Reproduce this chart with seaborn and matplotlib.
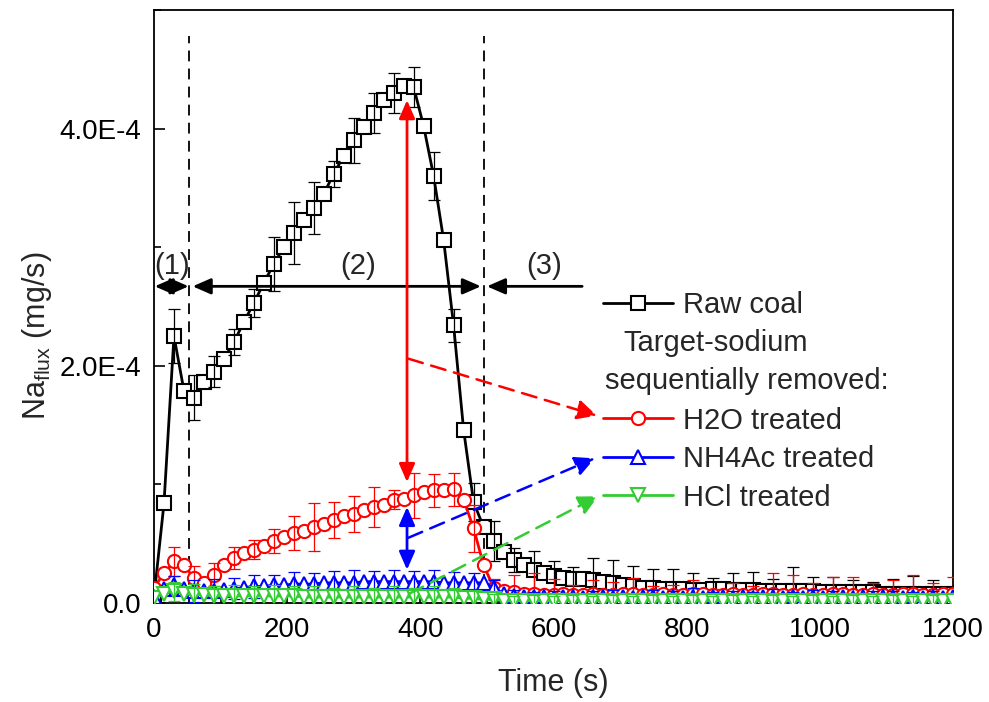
import numpy as np
import matplotlib
matplotlib.use("Agg")
import matplotlib.pyplot as plt
from matplotlib.lines import Line2D
from matplotlib.ticker import MultipleLocator, FuncFormatter
import seaborn as sns

# Sampling times (s); error bars are reported on every second sample
time_s = np.arange(0, 1201, 15)
err_time_s = time_s[::2]

# Na flux in units of 1E-4 mg/s
raw_coal = [
    0.05, 0.84, 2.25, 1.79, 1.73, 1.86, 1.95, 2.06, 2.20, 2.37,
    2.53, 2.70, 2.86, 3.00, 3.12, 3.23, 3.33, 3.45, 3.62, 3.77,
    3.90, 4.01, 4.13, 4.24, 4.30, 4.36, 4.35, 4.02, 3.60, 3.06,
    2.34, 1.46, 0.85, 0.64, 0.52, 0.43, 0.36, 0.32, 0.28, 0.25,
    0.23, 0.21, 0.20, 0.20, 0.19, 0.18, 0.17, 0.15, 0.14, 0.13,
    0.13, 0.12, 0.12, 0.12, 0.11, 0.11, 0.12, 0.12, 0.11, 0.11,
    0.11, 0.10, 0.10, 0.10, 0.10, 0.10, 0.10, 0.09, 0.09, 0.09,
    0.09, 0.09, 0.09, 0.08, 0.08, 0.08, 0.08, 0.08, 0.08, 0.08,
    0.08,
]
h2o_treated = [
    0.13, 0.25, 0.35, 0.32, 0.21, 0.17, 0.24, 0.32, 0.38, 0.42,
    0.45, 0.48, 0.52, 0.56, 0.59, 0.61, 0.64, 0.67, 0.70, 0.73,
    0.75, 0.78, 0.81, 0.83, 0.87, 0.88, 0.91, 0.94, 0.95, 0.95,
    0.96, 0.87, 0.63, 0.32, 0.13, 0.10, 0.09, 0.08, 0.08, 0.07,
    0.07, 0.08, 0.07, 0.07, 0.08, 0.07, 0.07, 0.08, 0.08, 0.07,
    0.07, 0.08, 0.07, 0.07, 0.08, 0.08, 0.07, 0.07, 0.08, 0.07,
    0.07, 0.08, 0.08, 0.07, 0.07, 0.08, 0.07, 0.07, 0.08, 0.08,
    0.07, 0.07, 0.08, 0.07, 0.07, 0.08, 0.08, 0.07, 0.07, 0.08,
    0.08,
]
nh4ac_treated = [
    0.05, 0.12, 0.15, 0.12, 0.10, 0.10, 0.10, 0.11, 0.12, 0.13,
    0.14, 0.14, 0.15, 0.15, 0.16, 0.16, 0.16, 0.17, 0.17, 0.17,
    0.17, 0.18, 0.18, 0.18, 0.18, 0.18, 0.18, 0.18, 0.18, 0.17,
    0.17, 0.17, 0.17, 0.17, 0.13, 0.08, 0.06, 0.05, 0.05, 0.05,
    0.04, 0.05, 0.05, 0.04, 0.05, 0.05, 0.04, 0.05, 0.04, 0.05,
    0.05, 0.04, 0.05, 0.04, 0.05, 0.04, 0.05, 0.05, 0.04, 0.05,
    0.04, 0.05, 0.05, 0.04, 0.05, 0.04, 0.05, 0.04, 0.05, 0.05,
    0.04, 0.05, 0.04, 0.05, 0.05, 0.04, 0.05, 0.04, 0.05, 0.04,
    0.05,
]
hcl_treated = [
    0.04, 0.08, 0.10, 0.08, 0.07, 0.07, 0.06, 0.06, 0.06, 0.06,
    0.06, 0.06, 0.06, 0.06, 0.06, 0.05, 0.05, 0.05, 0.05, 0.05,
    0.05, 0.05, 0.05, 0.05, 0.05, 0.05, 0.05, 0.05, 0.05, 0.05,
    0.05, 0.04, 0.04, 0.03, 0.03, 0.02, 0.02, 0.02, 0.02, 0.02,
    0.02, 0.02, 0.02, 0.02, 0.02, 0.02, 0.02, 0.02, 0.02, 0.02,
    0.02, 0.02, 0.02, 0.02, 0.02, 0.02, 0.02, 0.02, 0.02, 0.02,
    0.02, 0.02, 0.02, 0.02, 0.02, 0.02, 0.02, 0.02, 0.02, 0.02,
    0.02, 0.02, 0.02, 0.02, 0.02, 0.02, 0.02, 0.02, 0.02, 0.02,
    0.02,
]

# Standard deviations (1E-4 mg/s) at err_time_s
raw_coal_err = [
    0.00, 0.23, 0.19, 0.13, 0.11, 0.12, 0.23, 0.26, 0.22, 0.11,
    0.19, 0.17, 0.17, 0.17, 0.20, 0.14, 0.16, 0.17, 0.10, 0.16,
    0.12, 0.10, 0.19, 0.19, 0.17, 0.16, 0.17, 0.14, 0.09, 0.14,
    0.15, 0.10, 0.20, 0.12, 0.13, 0.10, 0.09, 0.12, 0.15, 0.11, 0.00,
]
h2o_err = [
    0.00, 0.12, 0.10, 0.10, 0.09, 0.08, 0.10, 0.14, 0.20, 0.15,
    0.15, 0.17, 0.08, 0.19, 0.14, 0.14, 0.20, 0.07, 0.15, 0.17,
    0.13, 0.08, 0.11, 0.11, 0.13, 0.07, 0.08, 0.11, 0.05, 0.09,
    0.07, 0.17, 0.17, 0.10, 0.14, 0.15, 0.09, 0.12, 0.16, 0.10, 0.14,
]
nh4ac_err = [
    0.00, 0.08, 0.09, 0.10, 0.09, 0.10, 0.09, 0.10, 0.09, 0.10,
    0.11, 0.09, 0.10, 0.09, 0.10, 0.09, 0.08, 0.06, 0.05, 0.04,
    0.06, 0.03, 0.05, 0.07, 0.04, 0.06, 0.05, 0.08, 0.04, 0.06,
    0.05, 0.07, 0.04, 0.06, 0.05, 0.04, 0.06, 0.05, 0.04, 0.05, 0.00,
]
hcl_err = [
    0.00, 0.08, 0.09, 0.08, 0.09, 0.08, 0.09, 0.08, 0.09, 0.08,
    0.09, 0.08, 0.09, 0.08, 0.09, 0.08, 0.07, 0.05, 0.04, 0.05,
    0.04, 0.05, 0.04, 0.05, 0.04, 0.05, 0.04, 0.05, 0.04, 0.05,
    0.04, 0.05, 0.04, 0.05, 0.04, 0.05, 0.04, 0.05, 0.04, 0.05, 0.00,
]

series_names = ["Raw coal", "H2O treated", "NH4Ac treated", "HCl treated"]
series_values = [raw_coal, h2o_treated, nh4ac_treated, hcl_treated]
series_errors = [raw_coal_err, h2o_err, nh4ac_err, hcl_err]
series_colors = ["#000000", "#FF0000", "#0000FF", "#33CC33"]
series_markers = ["s", "o", "^", "v"]

# Stage boundaries (s) and stage labels
stage_bounds = [53, 495]
stage_labels = ["(1)", "(2)", "(3)"]

SCALE = 1e-4

sns.set_theme(style="ticks")
plt.rcParams["font.family"] = ["Liberation Sans", "DejaVu Sans"]
plt.rcParams["mathtext.fontset"] = "custom"
plt.rcParams["mathtext.rm"] = "Liberation Sans"
plt.rcParams["mathtext.it"] = "Liberation Sans"

W, H = 989, 702
fig = plt.figure(figsize=(W / 100, H / 100), dpi=100)
ax = fig.add_axes([154 / W, 1 - 603 / H, (953 - 154) / W, (603 - 10) / H])

MS, MEW, LW = 9.5, 1.5, 2.0

handles = []
for i, (name, vals, errs, col, mk) in enumerate(
        zip(series_names, series_values, series_errors, series_colors, series_markers)):
    y = np.asarray(vals) * SCALE
    sns.lineplot(x=time_s, y=y, ax=ax, color=col, lw=LW, marker=mk,
                 markersize=MS, markerfacecolor="white", markeredgecolor=col,
                 markeredgewidth=MEW, errorbar=None, legend=False,
                 zorder=2 + i, clip_on=True)
    e = np.asarray(errs)
    keep = e > 0
    ax.errorbar(err_time_s[keep], y[::2][keep], yerr=e[keep] * SCALE, fmt="none",
                ecolor=col, elinewidth=0.9, capsize=4.5, capthick=0.9,
                zorder=2.5 + i)
    handles.append(Line2D([], [], color=col, lw=LW, marker=mk, markersize=MS,
                          markerfacecolor="white", markeredgecolor=col,
                          markeredgewidth=MEW))

ax.set_xlim(0, 1200)
ax.set_ylim(0, 5e-4)
ax.xaxis.set_major_locator(MultipleLocator(200))
ax.xaxis.set_minor_locator(MultipleLocator(100))
ax.yaxis.set_major_locator(MultipleLocator(2e-4))
ax.yaxis.set_minor_locator(MultipleLocator(1e-4))
ax.yaxis.set_major_formatter(FuncFormatter(
    lambda v, p: "0.0" if abs(v) < 1e-12 else f"{v / SCALE:.1f}E-4"))
ax.tick_params(which="both", direction="in", top=False, right=False,
               width=1.2, labelsize=20, colors="black")
ax.tick_params(which="major", length=8)
ax.tick_params(which="minor", length=5)
ax.tick_params(axis="x", pad=10)
ax.tick_params(axis="y", pad=9)
for s in ax.spines.values():
    s.set_linewidth(1.3)
    s.set_color("black")
    s.set_visible(True)

ax.set_xlabel("Time (s)", fontsize=22, labelpad=18)
ax.set_ylabel(r"Na$_{\rm flux}$ (mg/s)", fontsize=22)
ax.yaxis.set_label_coords(-0.125, 0.45)

# Stage boundaries
ax.vlines(stage_bounds, 0, 4.78e-4, colors="black", lw=1.3,
          linestyles=(0, (6, 4)), zorder=1.5)

# Stage spans
y_span = 2.67e-4
black_head = "<|-|>,head_length=0.55,head_width=0.24"
ax.annotate("", xy=(1, y_span), xytext=(52, y_span),
            arrowprops=dict(arrowstyle=black_head, color="black", lw=2,
                            shrinkA=0, shrinkB=0, mutation_scale=20))
ax.annotate("", xy=(58, y_span), xytext=(491, y_span),
            arrowprops=dict(arrowstyle=black_head, color="black", lw=2,
                            shrinkA=0, shrinkB=0, mutation_scale=20))
ax.annotate("", xy=(500, y_span), xytext=(643, y_span),
            arrowprops=dict(arrowstyle="-|>,head_length=0.55,head_width=0.24",
                            color="black", lw=2, shrinkA=0, shrinkB=0,
                            mutation_scale=20))
for xl, lab in zip([27, 307, 586], stage_labels):
    ax.text(xl, 2.72e-4, lab, fontsize=21, ha="center", va="bottom")

# Reduction arrows at t = 380 s
x_arrow = 380
ax.annotate("", xy=(x_arrow, 4.24e-4), xytext=(x_arrow, 1.02e-4),
            arrowprops=dict(arrowstyle=black_head, color="#FF0000", lw=2,
                            shrinkA=0, shrinkB=0, mutation_scale=20), zorder=6)
ax.annotate("", xy=(x_arrow, 0.81e-4), xytext=(x_arrow, 0.28e-4),
            arrowprops=dict(arrowstyle=black_head, color="#0000FF", lw=2,
                            shrinkA=0, shrinkB=0, mutation_scale=20), zorder=6)

# Dashed pointers to the legend entries
pointers = [((382, 2.06e-4), (665, 1.58e-4), "#FF0000"),
            ((382, 0.55e-4), (662, 1.22e-4), "#0000FF"),
            ((384, 0.08e-4), (667, 0.90e-4), "#33CC33")]
for start, end, col in pointers:
    ax.annotate("", xy=end, xytext=start,
                arrowprops=dict(arrowstyle="-|>,head_length=0.6,head_width=0.3",
                                color=col, lw=1.8, linestyle=(0, (6, 3.5)),
                                shrinkA=0, shrinkB=0, mutation_scale=20),
                zorder=6)

# Legend
FS_LEG = 21
blank = Line2D([], [], color="none")
leg = ax.legend(handles=[handles[0], blank, blank, handles[1], handles[2], handles[3]],
                labels=["Raw coal", " ", " ", "H2O treated", "NH4Ac treated", "HCl treated"],
                loc="upper left", bbox_to_anchor=(603 / W, 1 - 291 / H),
                bbox_transform=fig.transFigure, frameon=False, fontsize=FS_LEG,
                handlelength=2.4, handletextpad=0.35, labelspacing=0.36,
                borderpad=0, borderaxespad=0)
leg.set_zorder(10)
fig.text(623 / W, 1 - 343 / H, "Target-sodium", fontsize=FS_LEG, ha="left", va="center")
fig.text(605 / W, 1 - 381 / H, "sequentially removed:", fontsize=FS_LEG, ha="left", va="center")

fig.savefig("out.png", dpi=100, facecolor="white")
